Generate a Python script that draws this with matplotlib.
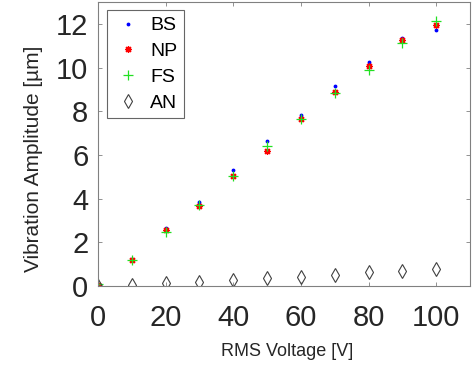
import numpy as np
import matplotlib
matplotlib.use('Agg')
import matplotlib.pyplot as plt

plt.rcParams['font.family'] = ['Liberation Sans', 'DejaVu Sans']

# measured data
voltage = [0, 10, 20, 30, 40, 50, 60, 70, 80, 90, 100]
bs = [0.10, 1.25, 2.65, 3.85, 5.30, 6.65, 7.85, 9.15, 10.25, 11.35, 11.70]
np_ = [0.05, 1.20, 2.55, 3.65, 5.05, 6.20, 7.65, 8.90, 10.05, 11.28, 11.95]
fs = [0.10, 1.20, 2.45, 3.70, 5.05, 6.40, 7.65, 8.82, 9.90, 11.10, 12.15]
an = [0.00, 0.05, 0.15, 0.20, 0.29, 0.35, 0.41, 0.52, 0.63, 0.69, 0.76]

fig = plt.figure(figsize=(4.72, 3.68), dpi=100)
ax = fig.add_axes([0.2076, 0.2228, 0.7882, 0.7718])

ax.plot(voltage, bs, linestyle='none', marker='.', markersize=3.5, color='#0000ff', label='BS')
ax.plot(voltage, np_, linestyle='none', marker=(8, 2, 0), markersize=5,
        markeredgecolor='#ff0000', markeredgewidth=0.9, color='#ff0000', label='NP')
ax.plot(voltage, fs, linestyle='none', marker='+', markersize=6.5, markeredgewidth=0.9,
        color='#22e022', label='FS')
ax.plot(voltage, an, linestyle='none', marker='d', markersize=7, markerfacecolor='none',
        markeredgecolor='#404040', markeredgewidth=0.8, label='AN')

ax.set_xlim(0, 110)
ax.set_ylim(0, 13)
ax.set_xticks(np.arange(0, 101, 20))
ax.set_yticks(np.arange(0, 13, 2))

ax.set_xlabel('RMS Voltage [V]', fontsize=13, color='#262626')
ax.set_ylabel('Vibration Amplitude [µm]', fontsize=15, color='#262626')
ax.xaxis.set_label_coords(0.508, -0.2)
ax.yaxis.set_label_coords(-0.148, 0.449)

ax.tick_params(axis='both', direction='in', length=3, width=0.6, labelsize=21,
               colors='#808080', labelcolor='#262626', top=True, right=True)
ax.tick_params(axis='x', pad=13)
ax.tick_params(axis='y', pad=7)
for axis in ['top', 'bottom', 'left', 'right']:
    ax.spines[axis].set_linewidth(0.8)
    ax.spines[axis].set_color('#808080')

leg = ax.legend(loc='upper left', fontsize=14, frameon=True, fancybox=False,
                edgecolor='#404040', handlelength=1.5, handletextpad=0.4,
                labelspacing=0.42, borderpad=0.35, borderaxespad=0,
                bbox_to_anchor=(0.0234, 0.972))
leg.get_frame().set_linewidth(0.8)

fig.savefig('out.png', dpi=100)
